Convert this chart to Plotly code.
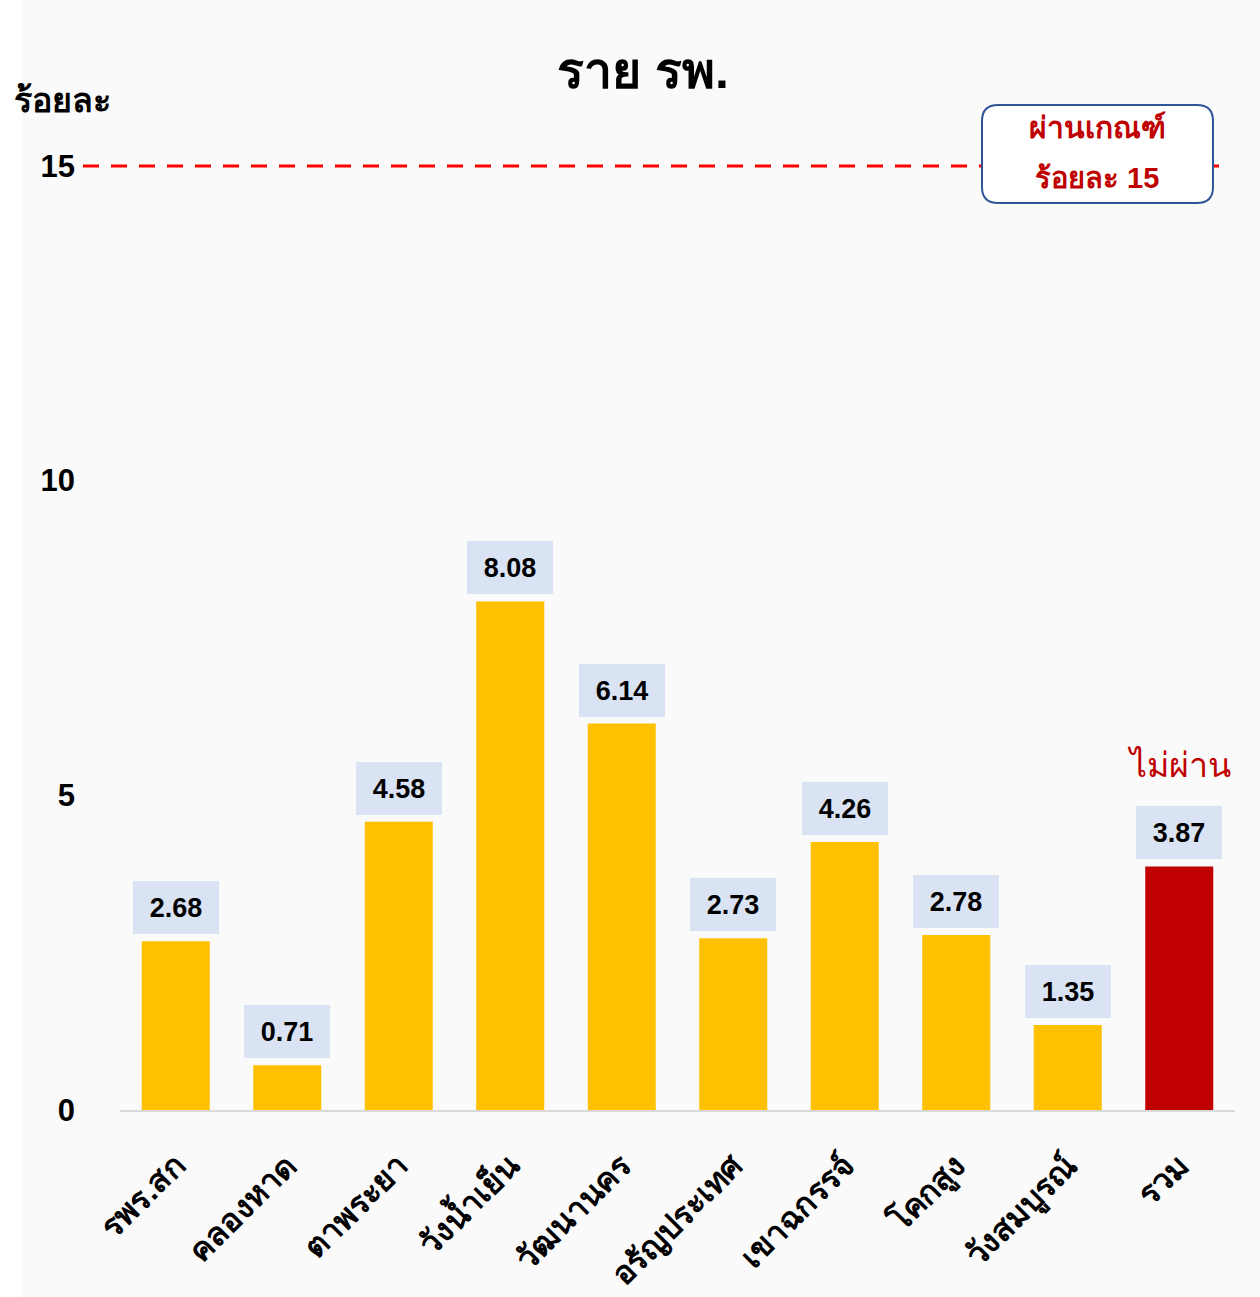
import plotly.graph_objects as go

categories = ["รพร.สก", "คลองหาด", "ตาพระยา", "วังน้ำเย็น", "วัฒนานคร",
              "อรัญประเทศ", "เขาฉกรรจ์", "โคกสูง", "วังสมบูรณ์", "รวม"]
values = [2.68, 0.71, 4.58, 8.08, 6.14, 2.73, 4.26, 2.78, 1.35, 3.87]
target = 15
y_ticks = [0, 5, 10, 15]

W, H = 1260, 1297
L, R, T, B = 120, 25, 103, 187
PW, PH = W - L - R, H - T - B


def px_x(px):
    return (px - L) / PW


def px_y(py):
    return (H - B - py) / PH


GOLD = "#FFC000"
RED = "#C00000"
FONT = "Liberation Sans, Arial, sans-serif"

colors = [GOLD] * (len(values) - 1) + [RED]

fig = go.Figure()
fig.add_trace(go.Bar(
    x=categories, y=values, marker=dict(color=colors, line=dict(width=0)),
    width=0.61, hoverinfo="skip",
))

annotations = []
for c, v in zip(categories, values):
    annotations.append(dict(
        x=c, y=v, xref="x", yref="y", text=f"<b>{v:.2f}</b>", showarrow=False,
        yanchor="bottom", yshift=7, width=86, height=53, bgcolor="#DAE3F3",
        borderpad=0, borderwidth=0, font=dict(family=FONT, size=27, color="black"),
    ))

# "ไม่ผ่าน" above total bar
annotations.append(dict(
    x=categories[-1], y=values[-1], xref="x", yref="y", text="ไม่ผ่าน",
    showarrow=False, yanchor="middle", yshift=101,
    font=dict(family=FONT, size=34, color=RED),
))

# y axis unit label
annotations.append(dict(
    x=px_x(12), y=px_y(100), xref="paper", yref="paper", text="<b>ร้อยละ</b>",
    showarrow=False, xanchor="left", yanchor="middle",
    font=dict(family=FONT, size=34, color="black"),
))

# target box text
annotations.append(dict(
    x=px_x(1097), y=px_y(127), xref="paper", yref="paper", text="<b>ผ่านเกณฑ์</b>",
    showarrow=False, xanchor="center", yanchor="middle",
    font=dict(family=FONT, size=30, color=RED),
))
annotations.append(dict(
    x=px_x(1097), y=px_y(178), xref="paper", yref="paper", text=f"<b>ร้อยละ {target}</b>",
    showarrow=False, xanchor="center", yanchor="middle",
    font=dict(family=FONT, size=29, color=RED),
))


def rounded_rect(x0, y0, x1, y1, r):
    def P(x, y):
        return f"{px_x(x)},{px_y(y)}"
    return (f"M {P(x0 + r, y0)} L {P(x1 - r, y0)} Q {P(x1, y0)} {P(x1, y0 + r)} "
            f"L {P(x1, y1 - r)} Q {P(x1, y1)} {P(x1 - r, y1)} "
            f"L {P(x0 + r, y1)} Q {P(x0, y1)} {P(x0, y1 - r)} "
            f"L {P(x0, y0 + r)} Q {P(x0, y0)} {P(x0 + r, y0)} Z")


shapes = [
    # white left strip
    dict(type="rect", xref="paper", yref="paper", x0=px_x(0), x1=px_x(22),
         y0=px_y(H), y1=px_y(0), fillcolor="white", line=dict(width=0), layer="below"),
    # target dashed line
    dict(type="line", xref="paper", yref="y", x0=px_x(83), x1=px_x(1220),
         y0=target, y1=target, line=dict(color="#FF0000", width=3, dash="16px,12px")),
    # target box
    dict(type="path", xref="paper", yref="paper", path=rounded_rect(982, 105, 1213, 203, 16),
         fillcolor="white", line=dict(color="#2F5597", width=2)),
]

fig.update_layout(
    width=W, height=H,
    margin=dict(l=L, r=R, t=T, b=B, autoexpand=False),
    paper_bgcolor="#FAFAFA", plot_bgcolor="#FAFAFA",
    title=dict(text="<b>ราย รพ.</b>", x=643 / W, xref="container", xanchor="center",
               y=1 - 70 / H, yref="container", yanchor="middle",
               font=dict(family=FONT, size=50, color="black")),
    showlegend=False,
    bargap=0.39,
    annotations=annotations,
    shapes=shapes,
    xaxis=dict(
        tickangle=-45, showgrid=False, showline=True, linecolor="#D9D9D9", linewidth=2,
        ticks="", tickfont=dict(family=FONT, size=32, color="black"),
        ticktext=[f"<b>{c}</b>" for c in categories], tickvals=categories,
        ticklabelstandoff=22, fixedrange=True, automargin=False,
    ),
    yaxis=dict(
        range=[0, 16], tickvals=y_ticks, ticktext=[f"<b>{t}</b>" for t in y_ticks],
        showgrid=False, zeroline=False, showline=False, ticks="",
        tickfont=dict(family=FONT, size=31, color="black"),
        ticklabelstandoff=44, fixedrange=True, automargin=False,
    ),
)

fig.write_html("out.html", config={"displayModeBar": False},
               post_script="document.body.style.margin='0';")
